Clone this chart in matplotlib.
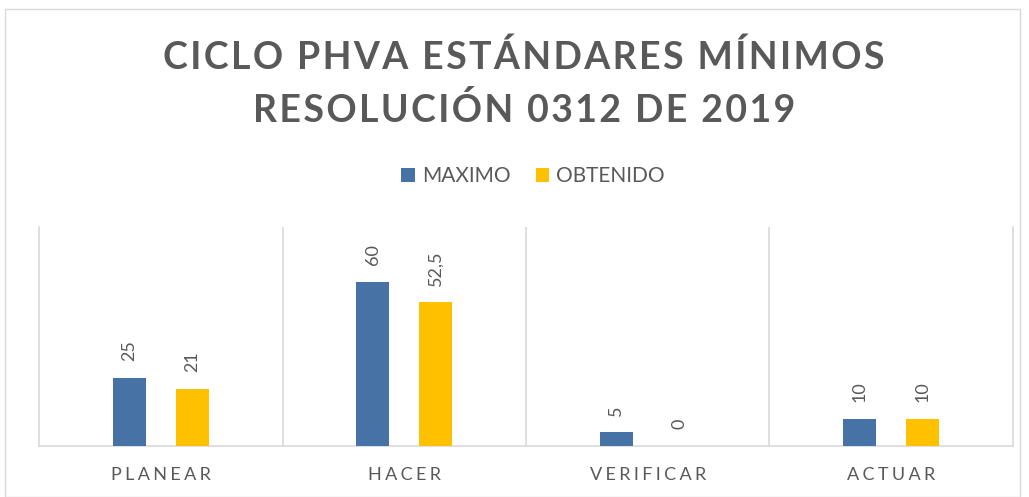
import matplotlib
matplotlib.use("Agg")
import matplotlib.pyplot as plt
from matplotlib.patches import Rectangle, Patch
import numpy as np

CATEGORIES = ["PLANEAR", "HACER", "VERIFICAR", "ACTUAR"]
MAXIMO = [25, 60, 5, 10]
OBTENIDO = [21, 52.5, 0, 10]
SERIES_NAMES = ["MAXIMO", "OBTENIDO"]
TITLE_LINES = ["CICLO PHVA ESTÁNDARES MÍNIMOS", "RESOLUCIÓN 0312 DE 2019"]

BLUE = "#4672A6"
YELLOW = "#FFC000"
TEXT = "#595959"
GRID = "#D9D9D9"
FONT = ["Lato", "DejaVu Sans"]
W, H = 1029, 497


def spaced(s: str, sep: str = "\u2009") -> str:
    return sep.join(s)


def fmt(v: float) -> str:
    return f"{v:g}".replace(".", ",")


plt.rcParams["font.family"] = FONT

fig = plt.figure(figsize=(W / 100, H / 100), dpi=100)
fig.patches.append(Rectangle((5 / W, 0.0), 1015 / W, 1 - 9 / H,
                             transform=fig.transFigure, fill=False,
                             edgecolor=GRID, linewidth=1.0))

ax = fig.add_axes([39 / W, 51 / H, 974 / W, 219 / H])
x = np.arange(len(CATEGORIES))
w = 0.135
off = 0.129
bars = [
    ax.bar(x - off, MAXIMO, w, color=BLUE, label=SERIES_NAMES[0], zorder=3),
    ax.bar(x + off, OBTENIDO, w, color=YELLOW, label=SERIES_NAMES[1], zorder=3),
]
for bc in bars:
    for rect in bc:
        h = rect.get_height()
        ax.annotate(fmt(h), (rect.get_x() + rect.get_width() / 2, h),
                    xytext=(0, 12), textcoords="offset points",
                    rotation=90, ha="center", va="bottom",
                    fontsize=13, color=TEXT)

ax.set_xlim(-0.5, len(CATEGORIES) - 0.5)
ax.set_ylim(0, 80)
ax.set_yticks([])
ax.set_xticks(x)
ax.set_xticklabels([spaced(c, "\u2009\u200a") for c in CATEGORIES],
                   fontsize=13, color=TEXT)
ax.tick_params(axis="x", length=0, pad=15)
for xv in x[:-1] + 0.5:
    ax.axvline(xv, color=GRID, linewidth=1.2, zorder=1)
for side in ["left", "right", "bottom"]:
    ax.spines[side].set_color(GRID)
    ax.spines[side].set_linewidth(1.2)
ax.spines["top"].set_visible(False)

# title, two lines, letter spaced
for line, base in zip(TITLE_LINES, [69, 122]):
    fig.text(524 / W, 1 - base / H, spaced(line, "\u200a"), ha="center",
             va="baseline", fontsize=27, fontweight="bold", color=TEXT)

handles = [Patch(facecolor=BLUE, label=SERIES_NAMES[0]),
           Patch(facecolor=YELLOW, label=SERIES_NAMES[1])]
fig.legend(handles=handles, loc="center", bbox_to_anchor=(533 / W, 1 - 176 / H),
           ncol=2, frameon=False, fontsize=15, labelcolor=TEXT,
           handlelength=0.65, handleheight=0.65, handletextpad=0.35,
           columnspacing=1.2)

fig.savefig("out.png", dpi=100)
